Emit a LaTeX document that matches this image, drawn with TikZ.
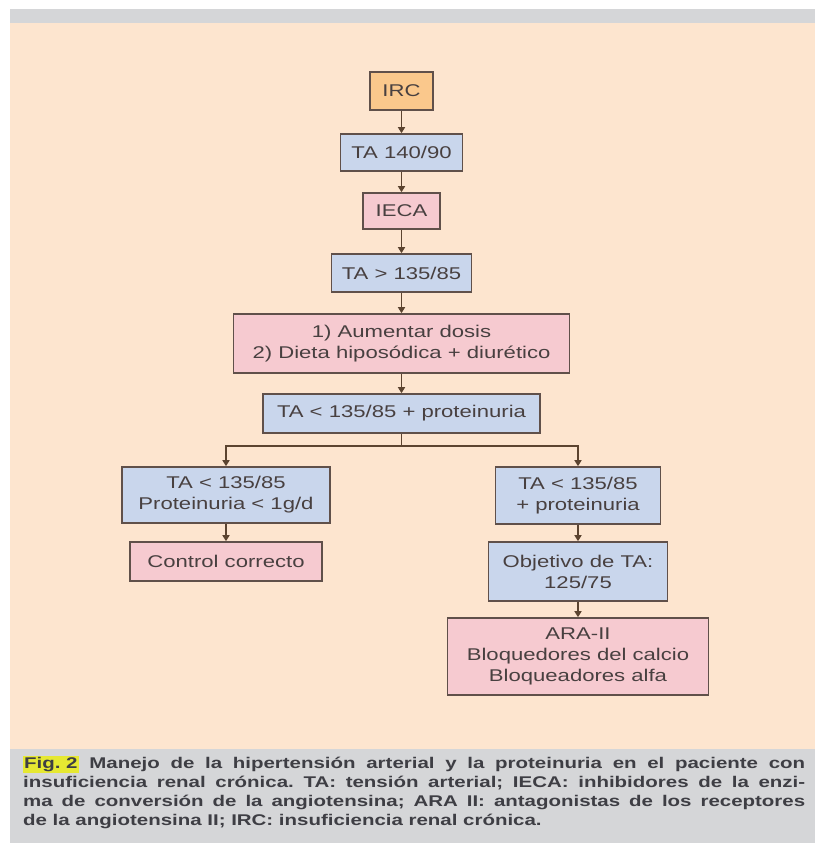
\documentclass[tikz,border=0pt]{standalone}
\usepackage{fontspec}
\usetikzlibrary{arrows.meta}
\newfontfamily\boxfont[FakeStretch=1.3]{Liberation Sans}
\newfontfamily\capfont[FakeStretch=1.32]{Liberation Sans}
\definecolor{peach}{RGB}{253,229,207}
\definecolor{bandgray}{RGB}{213,214,216}
\definecolor{irccol}{RGB}{250,200,140}
\definecolor{bluecol}{RGB}{201,214,236}
\definecolor{pinkcol}{RGB}{246,202,208}
\definecolor{edgecol}{RGB}{96,80,74}
\definecolor{arrowcol}{RGB}{92,68,48}
\definecolor{txtcol}{RGB}{72,64,64}
\definecolor{captxt}{RGB}{62,62,68}
\definecolor{hilite}{RGB}{230,232,50}

\begin{document}
\begin{tikzpicture}[x=1pt,y=-1pt,
    box/.style={draw=edgecol,line width=1.6pt,text=txtcol,align=center,inner sep=0pt,
                font=\boxfont\fontsize{17}{21}\selectfont},
    bluebox/.style={box,fill=bluecol},
    pinkbox/.style={box,fill=pinkcol},
    ircbox/.style={box,fill=irccol},
    link/.style={draw=arrowcol,line width=1.6pt},
    flow/.style={link,-{Triangle[width=7pt,length=6pt]}}]
    \useasboundingbox (0,0) rectangle (815,848);
    \fill[white] (0,0) rectangle (815,848);
    \fill[bandgray] (10,9) rectangle (815,23);
    \fill[peach] (10,23) rectangle (815,749);
    \fill[bandgray] (10,749) rectangle (815,843);

    \node[ircbox,minimum width=63pt,minimum height=38pt] (irc) at (401.5,91) {IRC};
    \node[bluebox,minimum width=122pt,minimum height=37pt] (ta140) at (401.5,152.5) {TA 140/90};
    \node[pinkbox,minimum width=77pt,minimum height=36pt] (ieca) at (401.5,211) {IECA};
    \node[bluebox,minimum width=140pt,minimum height=38pt] (tamas) at (401.5,273) {TA > 135/85};
    \node[pinkbox,minimum width=336pt,minimum height=59pt] (dosis) at (401.5,343.5) {1) Aumentar dosis\\2) Dieta hiposódica + diurético};
    \node[bluebox,minimum width=277pt,minimum height=39pt] (tamenos) at (401.5,413.5) {TA < 135/85 + proteinuria};

    \node[bluebox,minimum width=208pt,minimum height=56pt] (izq) at (226,495) {TA < 135/85\\Proteinuria < 1g/d};
    \node[pinkbox,minimum width=192pt,minimum height=39pt] (control) at (226,561.5) {Control correcto};

    \node[bluebox,minimum width=165pt,minimum height=57pt] (der) at (578,495.5) {TA < 135/85\\+ proteinuria};
    \node[bluebox,minimum width=179pt,minimum height=59pt] (objetivo) at (578,571.5) {Objetivo de TA:\\125/75};
    \node[pinkbox,minimum width=261pt,minimum height=77pt] (ara) at (578,656.5) {ARA-II\\Bloquedores del calcio\\Bloqueadores alfa};

    \draw[flow] (irc) -- (ta140);
    \draw[flow] (ta140) -- (ieca);
    \draw[flow] (ieca) -- (tamas);
    \draw[flow] (tamas) -- (dosis);
    \draw[flow] (dosis) -- (tamenos);
    \draw[link] (tamenos.south) -- ++(0,12) coordinate (rama);
    \draw[flow] (rama) -| (izq.north);
    \draw[flow] (rama) -| (der.north);
    \draw[flow] (izq) -- (control);
    \draw[flow] (der) -- (objetivo);
    \draw[flow] (objetivo) -- (ara);

    % pie de figura
    \node[anchor=north west,inner sep=0pt,text=captxt] (pie) at (23,756)
      {\parbox[t]{782pt}{\capfont\bfseries\fontsize{15.5}{19}\selectfont\frenchspacing
       \setlength{\fboxsep}{1pt}\colorbox{hilite}{Fig. 2}
       Manejo de la hipertensión arterial y la proteinuria en el paciente con\linebreak
       insuficiencia renal crónica. TA: tensión arterial; IECA: inhibidores de la enzi-\linebreak
       ma de conversión de la angiotensina; ARA II: antagonistas de los receptores\linebreak
       de la angiotensina II; IRC: insuficiencia renal crónica.}};
\end{tikzpicture}
\end{document}
